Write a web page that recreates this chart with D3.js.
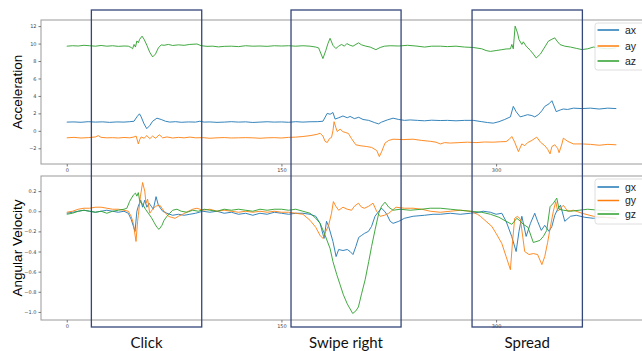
<!DOCTYPE html>
<html>
<head>
<meta charset="utf-8">
<script src="https://cdn.jsdelivr.net/npm/d3@7"></script>
<style>
  body { margin: 0; background: #fff; }
  svg { display: block; }
</style>
</head>
<body>
<svg id="chart" width="642" height="351"></svg>
<script>
// sample index -> value
const ax = [[0,1.0],[5,1.02],[10,0.98],[15,1.05],[20,1.0],[25,1.03],[30,0.97],[35,1.02],[40,1.0],[44,1.05],[47,1.1],[49,1.6],[50.8,1.95],[52,1.6],[54,0.8],[55.9,0.25],[58,0.6],[60,1.1],[63,1.45],[66,1.3],[69,1.1],[72,1.0],[76,1.05],[80,0.98],[85,1.02],[90,1.0],[93,1.1],[96,1.0],[100,1.02],[105,0.97],[110,1.0],[115,1.05],[120,1.0],[125,1.03],[130,0.96],[135,1.0],[140,1.04],[145,1.0],[150,1.02],[155,0.98],[160,1.05],[165,1.0],[170,1.04],[175,1.05],[179,1.1],[181,1.7],[182,2.0],[184,1.9],[186,2.1],[187.5,1.35],[190,1.5],[193,1.7],[196,1.5],[198,1.65],[201,1.4],[204,1.55],[207,1.3],[211,1.2],[215,0.95],[217.8,0.8],[220,1.0],[224,1.25],[228,1.45],[232,1.3],[236,1.2],[240,1.25],[245,1.2],[250,1.15],[255,1.22],[261,1.18],[266,1.2],[272,1.15],[278,1.2],[284,1.2],[290,1.05],[294,0.95],[298,0.88],[302,1.05],[306,1.3],[310,1.6],[312,2.8],[314,2.2],[316.8,1.6],[319,1.7],[322,1.85],[325,1.75],[327,1.6],[329.5,1.85],[332,2.3],[334,2.8],[337,3.1],[339,3.45],[342,2.2],[345,2.4],[347,2.5],[350,2.45],[354,2.6],[360,2.55],[366,2.6],[372,2.5],[378,2.6],[384,2.55]];
const ay = [[0,-0.8],[5,-0.75],[10,-0.82],[15,-0.78],[20,-0.7],[22,-0.55],[24,-0.75],[28,-0.8],[32,-0.78],[36,-0.82],[40,-0.76],[44,-0.8],[47,-0.7],[48.5,-0.6],[50,-1.5],[51,-1.0],[52,-0.7],[54,-0.85],[56,-0.55],[58,-0.9],[60,-0.6],[62,-0.85],[64.7,-0.45],[67,-0.8],[70,-0.7],[74,-0.82],[78,-0.75],[82,-0.8],[86,-0.72],[90,-0.8],[95,-0.78],[100,-0.85],[105,-0.8],[110,-0.77],[115,-0.82],[120,-0.8],[125,-0.78],[130,-0.8],[135,-0.85],[140,-0.8],[145,-0.78],[150,-0.82],[155,-0.75],[160,-0.72],[165,-0.65],[170,-0.55],[175,-0.4],[177,-0.27],[179,-0.6],[180.5,-1.2],[182,-1.34],[183.5,-0.9],[185,-0.75],[186,0.0],[186.8,1.05],[188,0.4],[189,-0.08],[191,0.2],[193,-0.1],[195,-0.2],[196.8,-0.3],[199,-0.9],[202,-1.6],[205,-1.7],[209.6,-1.8],[213,-1.9],[216.6,-2.25],[218.4,-2.95],[220,-2.4],[222.4,-1.4],[225,-1.1],[228,-0.96],[235,-1.0],[242,-0.96],[248,-1.1],[254,-1.2],[258,-1.3],[261,-1.5],[264,-1.35],[268,-1.4],[274,-1.35],[280,-1.3],[286,-1.35],[292,-1.28],[298,-1.3],[303,-1.25],[307,-1.23],[309,-1.0],[311,-0.65],[313,-1.3],[315.6,-2.38],[318,-1.5],[320,-1.7],[322,-1.35],[325,-1.1],[328.4,-0.72],[331,-1.3],[334,-1.7],[336,-2.1],[337.7,-2.64],[339,-1.8],[341,-1.6],[343,-2.0],[344,-2.5],[346,-1.5],[347,-0.84],[350,-1.2],[354,-1.5],[360,-1.5],[366,-1.55],[372,-1.65],[378,-1.55],[384,-1.6]];
const az = [[0,9.7],[4,9.75],[8,9.72],[12,9.8],[16,9.75],[20,9.7],[24,9.78],[28,9.7],[32,9.75],[36,9.68],[40,9.72],[43,9.7],[45,9.55],[46,9.4],[47,9.9],[48,9.6],[49,10.3],[50,10.1],[51,10.5],[52.6,10.85],[54,10.5],[56,9.8],[58,9.0],[60,8.47],[62,8.8],[64,9.5],[66,9.85],[68,9.8],[71,9.9],[74,9.78],[78,9.85],[82,9.8],[86,9.9],[91,9.95],[94,9.75],[98,9.68],[102,9.7],[106,9.62],[110,9.68],[115,9.7],[120,9.65],[125,9.75],[130,9.7],[135,9.72],[140,9.68],[145,9.75],[150,9.72],[155,9.75],[160,9.7],[165,9.75],[170,9.7],[174,9.6],[176,9.5],[179,8.28],[181,9.2],[182.5,10.0],[184,10.6],[186,9.8],[188,9.43],[190,9.7],[192,9.9],[194,9.7],[195.7,10.0],[198,9.8],[200,9.7],[203.8,10.08],[206,9.85],[209,9.7],[212,9.6],[216,9.3],[219,9.55],[222,9.7],[226,9.75],[232,9.72],[238,9.8],[244,9.72],[250,9.6],[255,9.7],[261,9.7],[266,9.65],[272,9.7],[278,9.6],[284,9.55],[290,9.4],[293,9.2],[296,9.1],[300,9.2],[304,9.3],[307,9.38],[310,9.4],[311,9.9],[312,9.4],[313.3,12.0],[315,11.2],[316,10.46],[318,9.9],[319,10.2],[321,9.7],[324,9.2],[326,8.8],[328,8.35],[331,8.8],[334,9.6],[336.5,10.27],[339,10.5],[341,10.65],[342.5,10.3],[344.7,9.88],[348,9.7],[352,9.6],[356,9.45],[360,9.31],[364,9.4],[368,9.6],[372,9.5],[378,9.4],[384,9.5]];

const gx = [[0,-0.02],[4,-0.01],[8,0.0],[12,0.01],[16,0.0],[20,-0.01],[24,0.0],[28,0.01],[32,0.0],[36,-0.01],[40,0.0],[43,-0.02],[45,-0.08],[47.7,-0.2],[49,0.0],[50,0.05],[51.7,0.11],[53,0.04],[54.5,0.11],[56,0.04],[57.5,0.08],[59,0.05],[60.5,0.02],[62.4,0.145],[64,0.06],[67,0.0],[70,-0.02],[74,-0.04],[78,-0.03],[82,-0.04],[86,-0.03],[90,-0.02],[95,0.0],[100,-0.01],[105,0.0],[110,-0.02],[115,-0.01],[120,-0.03],[125,-0.02],[130,-0.04],[135,-0.02],[140,-0.03],[145,-0.01],[150,-0.02],[155,-0.03],[160,-0.02],[165,-0.02],[170,-0.03],[174,-0.05],[177,-0.12],[179.8,-0.27],[181.5,-0.1],[183,-0.15],[186,-0.3],[188.2,-0.45],[190,-0.38],[193,-0.39],[196,-0.38],[198,-0.4],[200,-0.43],[202,-0.35],[204,-0.26],[206,-0.24],[208,-0.22],[210.8,-0.2],[213,-0.15],[215.4,-0.05],[218,0.0],[220,0.03],[222,0.0],[223.6,-0.03],[226,-0.1],[228,-0.12],[232,-0.1],[236,-0.07],[242,-0.05],[250,-0.04],[256,-0.03],[261,-0.03],[268,-0.02],[275,-0.03],[282,-0.02],[288,-0.01],[291,0.0],[296,-0.01],[300,-0.03],[304,-0.02],[307,-0.1],[310.9,-0.25],[314,-0.4],[316,-0.2],[318,-0.05],[321,-0.25],[324,-0.12],[327,-0.02],[329,-0.1],[331.6,-0.19],[334,-0.14],[337,-0.2],[339,-0.15],[341,-0.04],[343,0.02],[345,0.06],[348,-0.1],[352,-0.05],[356,-0.04],[362,-0.06],[368,-0.07],[375,-0.06],[384,-0.07]];
const gy = [[0,-0.01],[4,0.0],[8,0.02],[12,0.03],[16,0.03],[20,0.04],[24,0.04],[28,0.03],[32,0.02],[36,0.02],[40,0.01],[43,0.0],[45,-0.05],[46.5,-0.12],[48.4,-0.3],[49.5,-0.1],[50,-0.04],[51.5,0.15],[53,0.285],[54.5,0.2],[55.4,0.08],[56.5,0.12],[58,-0.02],[60,0.02],[62,0.05],[65,0.06],[68,0.0],[71,-0.05],[73,-0.06],[75.7,-0.07],[78,-0.05],[81,-0.03],[85,0.0],[88,0.02],[91,0.03],[95,0.01],[100,0.02],[105,0.0],[110,0.01],[115,0.0],[120,-0.01],[125,0.0],[130,-0.01],[135,0.0],[140,-0.01],[145,0.0],[150,-0.01],[155,-0.01],[160,-0.02],[165,-0.03],[170,-0.09],[174,-0.16],[177,-0.24],[179,-0.27],[181,-0.2],[183,-0.14],[185,-0.02],[186.3,0.096],[188,0.05],[190,0.01],[193,0.04],[196,0.02],[199,0.01],[201,0.05],[203.8,0.08],[206,0.04],[208,0.03],[211,0.05],[214,0.08],[216.5,0.0],[219,-0.05],[222,-0.04],[225,-0.02],[230,0.04],[236,0.03],[242,0.03],[248,0.02],[254,0.0],[261,-0.01],[268,0.0],[275,0.01],[282,0.0],[287,-0.03],[289,-0.05],[293,-0.1],[297,-0.15],[300,-0.22],[304,-0.32],[307,-0.45],[310,-0.58],[311.5,-0.3],[313,-0.07],[315,-0.05],[317,-0.08],[320,-0.4],[323,-0.43],[326,-0.42],[329,-0.43],[332,-0.53],[334,-0.45],[336,-0.31],[338,-0.15],[340,0.0],[341.7,0.096],[343,0.0],[345,0.03],[347,0.06],[350,0.0],[354,0.01],[360,-0.02],[368,-0.05],[376,-0.06],[384,-0.07]];
const gz = [[0,-0.03],[4,-0.02],[8,0.0],[12,0.01],[16,0.0],[20,-0.01],[24,0.0],[28,-0.02],[32,0.0],[36,0.01],[40,0.02],[42,0.03],[44,0.1],[46.5,0.16],[48,0.18],[49,0.15],[50,0.185],[51,0.1],[53,0.07],[55,0.02],[57,-0.02],[59,-0.06],[61,-0.11],[63,-0.16],[64.5,-0.18],[66.5,-0.14],[68,-0.09],[70,-0.05],[72,-0.02],[74,0.01],[77,0.02],[80,0.0],[84,-0.01],[88,0.01],[92,0.0],[96,0.02],[100,0.01],[105,0.0],[110,0.02],[115,0.01],[120,0.02],[125,0.01],[130,0.0],[135,0.02],[140,0.01],[145,0.02],[150,0.02],[155,0.01],[160,0.02],[165,0.0],[170,-0.02],[174,-0.07],[177,-0.12],[180,-0.22],[184,-0.37],[186,-0.5],[188.7,-0.63],[191,-0.73],[193.3,-0.83],[196,-0.92],[199.8,-1.015],[202,-0.99],[203.8,-0.95],[206,-0.82],[208.5,-0.68],[211,-0.5],[213,-0.35],[215.5,-0.18],[218,-0.02],[220,0.05],[222.4,0.09],[225,0.04],[228,0.01],[233,0.02],[240,0.01],[248,0.02],[254,0.03],[261,0.03],[268,0.02],[275,0.01],[282,0.0],[290,-0.01],[296,-0.03],[302,-0.06],[307,-0.1],[311,-0.13],[314.5,-0.07],[317,-0.1],[319,-0.13],[322.3,-0.16],[326,-0.31],[330.6,-0.29],[333,-0.25],[335.4,-0.19],[337.7,0.045],[340,0.08],[342.4,0.13],[344,0.02],[347,0.01],[352,0.0],[358,0.01],[364,0.02],[372,0.01],[384,0.0]];

const accNames = ['ax', 'ay', 'az'];
const gyroNames = ['gx', 'gy', 'gz'];
const accTicks = [-2, 0, 2, 4, 6, 8, 10, 12];
const gyroTicks = [-1.0, -0.8, -0.6, -0.4, -0.2, 0.0, 0.2];
const xTicks = [0, 150, 300];
const gestures = [
  { name: 'Click', start: 17.2, end: 94.3 },
  { name: 'Swipe right', start: 156.7, end: 233.6 },
  { name: 'Spread', start: 283.2, end: 360.3 }
];
const colors = ['#1f77b4', '#ff7f0e', '#2ca02c'];

const svg = d3.select('#chart');
const left = 41, right = 643.5;

const x = d3.scaleLinear().domain([-18, 403]).range([left, right]);

const panels = [
  { series: [ax, ay, az], names: accNames, ticks: accTicks, domain: [-3.8, 12.7], top: 20, bottom: 164,
    fmt: d => d3.format('d')(d).replace('-', '\u2212'), title: 'Acceleration',
    legend: { x: 595, y: 23, h: 47, rows: [30, 46, 61] } },
  { series: [gx, gy, gz], names: gyroNames, ticks: gyroTicks, domain: [-1.08, 0.35], top: 176, bottom: 320,
    fmt: d => d3.format('.1f')(d).replace('-', '\u2212'), title: 'Angular Velocity',
    legend: { x: 595, y: 179, h: 45, rows: [187, 200.5, 214] } }
];

svg.append('defs').append('clipPath').attr('id', 'plotclip')
  .append('rect').attr('x', left).attr('y', 0).attr('width', right - left).attr('height', 351);

panels.forEach((p, pi) => {
  const y = d3.scaleLinear().domain(p.domain).range([p.bottom, p.top]);
  const g = svg.append('g');

  // frame
  g.append('rect')
    .attr('x', left).attr('y', p.top)
    .attr('width', right - left).attr('height', p.bottom - p.top)
    .attr('fill', 'none').attr('stroke', '#9a9a9a').attr('stroke-width', 1);

  const yAxis = g.append('g')
    .attr('transform', `translate(${left},0)`)
    .call(d3.axisLeft(y).tickValues(p.ticks).tickFormat(p.fmt).tickSize(2.5).tickPadding(2));
  yAxis.select('.domain').remove();
  yAxis.selectAll('line').attr('stroke', '#777');
  yAxis.selectAll('text').attr('font-size', 5).attr('fill', '#444').attr('font-family', 'DejaVu Sans');

  const xAxis = g.append('g')
    .attr('transform', `translate(0,${p.bottom})`)
    .call(d3.axisBottom(x).tickValues(xTicks).tickFormat(d3.format('d')).tickSize(2.5).tickPadding(1.5));
  xAxis.select('.domain').remove();
  xAxis.selectAll('line').attr('stroke', '#777');
  xAxis.selectAll('text').attr('font-size', 5).attr('fill', '#444').attr('font-family', 'DejaVu Sans');

  const line = d3.line().x(d => x(d[0])).y(d => y(d[1]));
  g.append('g').attr('clip-path', 'url(#plotclip)')
    .selectAll('path').data(p.series).join('path')
    .attr('d', line)
    .attr('fill', 'none')
    .attr('stroke', (d, i) => colors[i])
    .attr('stroke-width', 1)
    .attr('stroke-opacity', 0.9)
    .attr('stroke-linejoin', 'round');

  // y title
  g.append('text')
    .attr('transform', `translate(22,${(p.top + p.bottom) / 2}) rotate(-90)`)
    .attr('text-anchor', 'middle')
    .attr('font-family', 'Liberation Sans, Arial, sans-serif')
    .attr('font-size', 13.5)
    .attr('fill', '#000')
    .text(p.title);

  // legend
  const lg = g.append('g');
  lg.append('rect')
    .attr('x', p.legend.x).attr('y', p.legend.y)
    .attr('width', 60).attr('height', p.legend.h)
    .attr('rx', 2.5)
    .attr('fill', '#fff').attr('fill-opacity', 0.85)
    .attr('stroke', '#d6d6d6').attr('stroke-width', 0.8);
  p.names.forEach((n, i) => {
    lg.append('line')
      .attr('x1', p.legend.x + 2.5).attr('x2', p.legend.x + 24)
      .attr('y1', p.legend.rows[i]).attr('y2', p.legend.rows[i])
      .attr('stroke', colors[i]).attr('stroke-width', 1.5);
    lg.append('text')
      .attr('x', p.legend.x + 30).attr('y', p.legend.rows[i] + 3.5)
      .attr('font-family', 'Liberation Sans, Arial, sans-serif')
      .attr('font-size', 10.5)
      .attr('fill', '#222')
      .text(n);
  });
});

// gesture windows
const boxes = svg.append('g');
boxes.selectAll('rect').data(gestures).join('rect')
  .attr('x', d => x(d.start))
  .attr('y', 10)
  .attr('width', d => x(d.end) - x(d.start))
  .attr('height', 317)
  .attr('fill', 'none')
  .attr('stroke', '#34467a')
  .attr('stroke-width', 1.3);

boxes.selectAll('text').data(gestures).join('text')
  .attr('x', d => (x(d.start) + x(d.end)) / 2)
  .attr('y', 347.5)
  .attr('text-anchor', 'middle')
  .attr('font-family', 'Lato, sans-serif')
  .attr('font-size', 15)
  .attr('fill', '#111')
  .text(d => d.name);
</script>
</body>
</html>
